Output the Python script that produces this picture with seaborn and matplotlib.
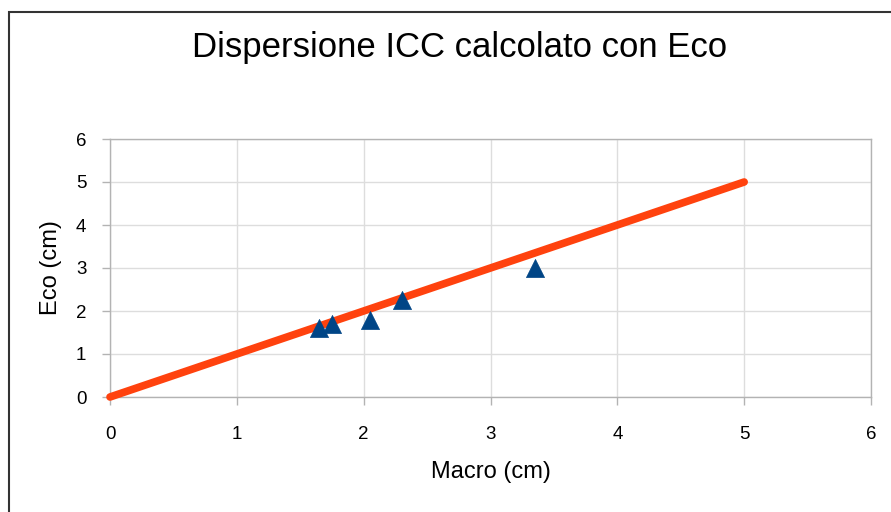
import matplotlib
matplotlib.use("Agg")
import matplotlib.pyplot as plt
from matplotlib.patches import Rectangle
import seaborn as sns
import pandas as pd

# Measurements: macroscopic vs. ultrasound (cm)
macro_cm = [1.65, 1.75, 2.05, 2.3, 3.35]
eco_cm = [1.6, 1.7, 1.8, 2.25, 3.0]

# Identity reference line
ref_x = [0, 5]
ref_y = [0, 5]

ticks = [0, 1, 2, 3, 4, 5, 6]

sns.set_theme(style="white")
plt.rcParams["font.family"] = ["Liberation Sans", "DejaVu Sans"]

W, H = 891, 512
fig = plt.figure(figsize=(W / 100, H / 100), dpi=100)
ax = fig.add_axes([110 / W, 1 - 397 / H, (871 - 110) / W, (397 - 139) / H])

grid_c = "#b3b3b3"
ax.set_xlim(0, 6)
ax.set_ylim(0, 6)
ax.set_xticks(ticks)
ax.set_yticks(ticks)
ax.grid(True, color="#dddddd", linewidth=1)
ax.set_axisbelow(True)
for s in ax.spines.values():
    s.set_color(grid_c)
    s.set_linewidth(1)
ax.tick_params(axis="both", which="both", direction="out", length=6, width=1,
               color=grid_c, labelsize=13.5, labelcolor="black",
               bottom=True, left=True)
ax.tick_params(axis="x", pad=15)
ax.tick_params(axis="y", pad=11)

ref = pd.DataFrame({"x": ref_x, "y": ref_y})
sns.lineplot(data=ref, x="x", y="y", ax=ax, color="#ff420e", linewidth=5.5,
             solid_capstyle="round", clip_on=False, zorder=3)

pts = pd.DataFrame({"Macro": macro_cm, "Eco": eco_cm})
sns.scatterplot(data=pts, x="Macro", y="Eco", ax=ax, marker="^", s=170,
                color="#004586", edgecolor="#004586", linewidth=0.5,
                zorder=4, clip_on=False)

ax.set_xlabel("Macro (cm)", fontsize=17, labelpad=13, color="black")
ax.set_ylabel("Eco (cm)", fontsize=17, labelpad=10, color="black")

fig.text(460 / W, 1 - 47 / H, "Dispersione ICC calcolato con Eco",
         ha="center", va="center", fontsize=25, color="black")

# Outer frame of the chart area
fig.patches.append(Rectangle((8.5 / W, -0.05), 1.2, 1 - 11.5 / H + 0.05,
                             transform=fig.transFigure, fill=False,
                             edgecolor="#333333", linewidth=1.5))

fig.savefig("out.png", dpi=100, facecolor="white")
